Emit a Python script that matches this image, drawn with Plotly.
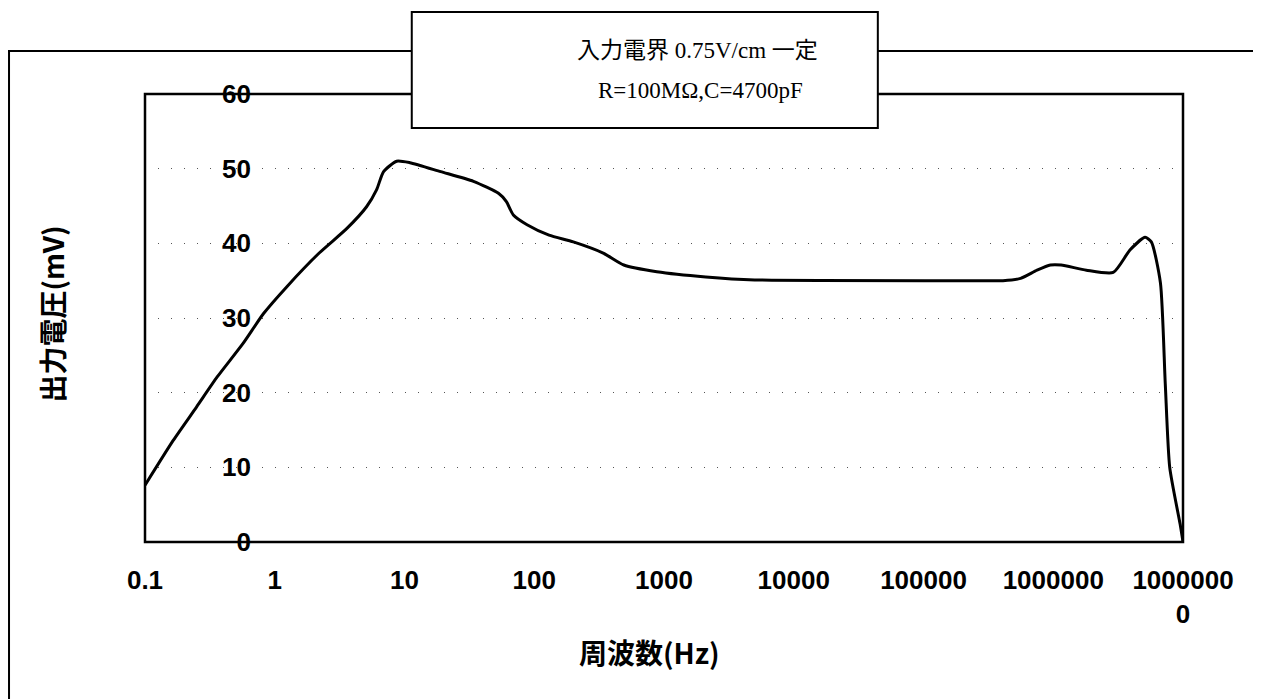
import plotly.graph_objects as go

# Frequenzgang: Ausgangsspannung ueber Frequenz (log)
freq_hz = [0.1, 0.165, 0.25, 0.36, 0.57, 0.82, 1.24, 2.2, 3.6, 5.1, 6.1, 6.9, 8.7, 11,
           19, 34, 53, 61, 69, 88, 130, 200, 340, 490, 880, 2100, 5000, 160000,
           410000, 560000, 750000, 950000, 1.15e6, 1.8e6, 2.9e6, 3.9e6, 5.1e6,
           5.7e6, 6.7e6, 7.3e6, 7.9e6, 9.5e6, 1e7]
output_mv = [7.6, 13.6, 18.1, 22.1, 26.6, 30.6, 34.2, 38.7, 42.0, 44.9, 47.2, 49.6, 51.0, 50.8,
             49.6, 48.3, 46.7, 45.6, 43.8, 42.5, 41.1, 40.2, 38.7, 37.1, 36.2, 35.5, 35.1, 35.0,
             35.0, 35.3, 36.4, 37.1, 37.1, 36.4, 36.1, 39.1, 40.8, 40.2, 34.7, 21.2, 10.0, 2.4, 0]

x_tickvals = [0.1, 1, 10, 100, 1000, 10000, 100000, 1000000, 10000000]
x_ticktext = ["0.1", "1", "10", "100", "1000", "10000", "100000", "1000000", "1000000<br>0"]
y_tickvals = [0, 10, 20, 30, 40, 50, 60]

box_lines = ["入力電界 0.75V/cm 一定", "R=100MΩ,C=4700pF"]
x_title = "周波数(Hz)"
y_title = "出力電圧(mV)"

tick_font = dict(family="Liberation Sans, Arial", size=26, color="black", weight="bold")
jp_bold = dict(family="Noto Sans CJK JP", size=28, color="black", weight="bold")
box_font = dict(family="Liberation Serif, Noto Sans CJK JP", size=23, color="black")

fig = go.Figure()

fig.add_trace(go.Scatter(
    x=freq_hz,
    y=output_mv,
    mode="lines",
    line=dict(color="black", width=3, shape="spline", smoothing=0.6),
    showlegend=False))

# Seite hat 8px body-margin -> Figur etwas kleiner, Raender angepasst
fig.update_layout(
    width=1253,
    height=691,
    margin=dict(l=137, r=78, t=86, b=157),
    paper_bgcolor="white",
    plot_bgcolor="white",
    xaxis=dict(
        type="log",
        range=[-1, 7],
        tickvals=x_tickvals,
        ticktext=x_ticktext,
        tickfont=tick_font,
        ticks="",
        ticklabelstandoff=20,
        showgrid=False,
        zeroline=False,
        showline=False),
    yaxis=dict(
        range=[0, 60],
        tickvals=y_tickvals,
        tickfont=tick_font,
        ticks="",
        anchor="free",
        position=0.102,
        showline=False,
        zeroline=False,
        showgrid=True,
        gridcolor="#555555",
        gridwidth=1,
        griddash="1px,12px"))

# Rahmen des Plotbereichs
fig.add_shape(type="rect", xref="paper", yref="paper", x0=0, x1=1, y0=0, y1=1,
              line=dict(color="black", width=2.5), layer="above")

# aeusserer Diagrammrahmen (laeuft ueber den Bildrand hinaus)
fig.add_shape(type="rect", xref="paper", yref="paper", x0=-0.131, x1=1.2, y0=-0.5, y1=1.096,
              line=dict(color="black", width=2), layer="below")

# Textkasten oben
fig.add_shape(type="rect", xref="paper", yref="paper", x0=0.257, x1=0.706, y0=0.924, y1=1.183,
              line=dict(color="black", width=2), fillcolor="white", layer="above")
fig.add_annotation(x=0.532, y=1.098, xref="paper", yref="paper", text=box_lines[0],
                   showarrow=False, font=box_font, xanchor="center", yanchor="middle")
fig.add_annotation(x=0.535, y=1.007, xref="paper", yref="paper", text=box_lines[1],
                   showarrow=False, font=box_font, xanchor="center", yanchor="middle")

# Achsentitel
fig.add_annotation(x=0.4865, y=-0.2455, xref="paper", yref="paper", text=x_title,
                   showarrow=False, font=jp_bold, xanchor="center", yanchor="middle")
fig.add_annotation(x=-0.0896, y=0.510, xref="paper", yref="paper", text=y_title,
                   showarrow=False, textangle=-90, font=jp_bold,
                   xanchor="center", yanchor="middle")

fig.write_html("out.html")
